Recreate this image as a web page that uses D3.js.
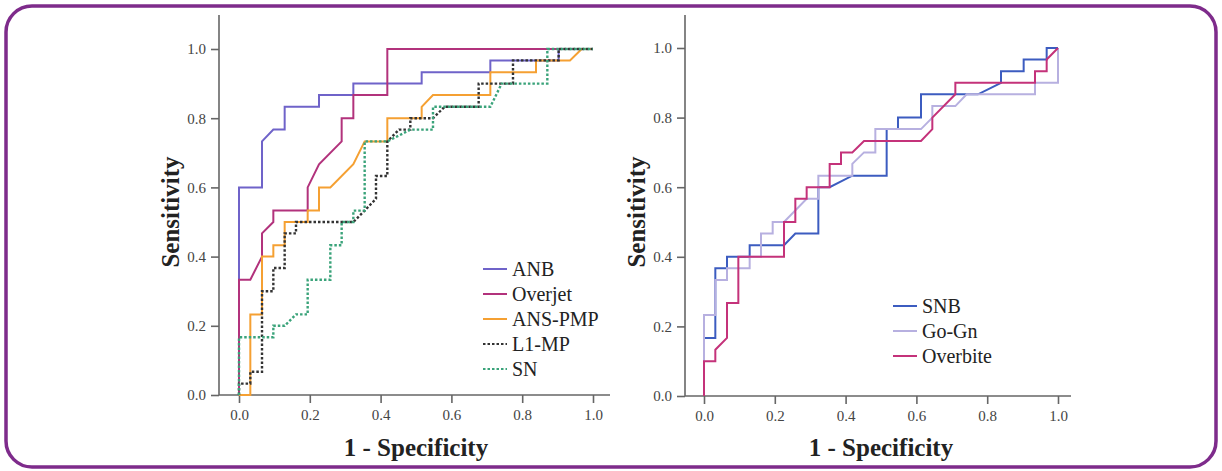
<!DOCTYPE html>
<html>
<head>
<meta charset="utf-8">
<script src="https://cdn.jsdelivr.net/npm/d3@7"></script>
<style>
  html, body { margin: 0; padding: 0; background: #fff; }
  svg { display: block; }
  svg text { font-family: "Liberation Serif", "DejaVu Serif", serif; }
</style>
</head>
<body>
<div id="chart"></div>
<script>
// ROC curves, [1 - specificity, sensitivity]
const anb = [[0,0],[0,0.6],[0.065,0.6],[0.065,0.733],[0.097,0.767],[0.129,0.767],[0.129,0.833],[0.226,0.833],[0.226,0.867],[0.323,0.867],[0.323,0.9],[0.516,0.9],[0.516,0.933],[0.71,0.933],[0.71,0.967],[0.903,0.967],[0.903,1],[1,1]];
const overjet = [[0,0],[0,0.333],[0.032,0.333],[0.065,0.4],[0.065,0.467],[0.097,0.5],[0.097,0.533],[0.194,0.533],[0.194,0.6],[0.226,0.667],[0.29,0.733],[0.29,0.8],[0.323,0.8],[0.323,0.867],[0.419,0.867],[0.419,1],[1,1]];
const ansPmp = [[0,0],[0.032,0],[0.032,0.233],[0.065,0.233],[0.065,0.4],[0.097,0.4],[0.097,0.433],[0.129,0.433],[0.129,0.5],[0.194,0.5],[0.194,0.533],[0.226,0.533],[0.226,0.6],[0.258,0.6],[0.323,0.667],[0.355,0.733],[0.419,0.733],[0.419,0.8],[0.516,0.8],[0.516,0.833],[0.548,0.867],[0.71,0.867],[0.71,0.933],[0.839,0.933],[0.839,0.967],[0.935,0.967],[0.968,1],[1,1]];
const l1Mp = [[0,0],[0,0.033],[0.032,0.033],[0.032,0.067],[0.065,0.067],[0.065,0.3],[0.097,0.3],[0.097,0.367],[0.129,0.367],[0.129,0.467],[0.161,0.467],[0.161,0.5],[0.323,0.5],[0.355,0.533],[0.387,0.567],[0.387,0.633],[0.419,0.633],[0.419,0.733],[0.452,0.767],[0.484,0.767],[0.484,0.8],[0.548,0.8],[0.581,0.833],[0.677,0.833],[0.677,0.9],[0.774,0.9],[0.774,0.967],[0.903,0.967],[0.903,1],[1,1]];
const sn = [[0,0],[0,0.167],[0.097,0.167],[0.097,0.2],[0.129,0.2],[0.161,0.233],[0.194,0.233],[0.194,0.333],[0.258,0.333],[0.258,0.433],[0.29,0.433],[0.29,0.5],[0.323,0.5],[0.323,0.533],[0.355,0.533],[0.355,0.733],[0.419,0.733],[0.452,0.75],[0.484,0.767],[0.548,0.767],[0.548,0.833],[0.71,0.833],[0.742,0.9],[0.871,0.9],[0.871,1],[1,1]];

const snb = [[0,0],[0,0.167],[0.032,0.167],[0.032,0.367],[0.065,0.367],[0.065,0.4],[0.129,0.4],[0.129,0.433],[0.226,0.433],[0.258,0.467],[0.323,0.467],[0.323,0.6],[0.355,0.6],[0.419,0.633],[0.516,0.633],[0.516,0.767],[0.548,0.767],[0.548,0.8],[0.613,0.8],[0.613,0.867],[0.774,0.867],[0.839,0.9],[0.839,0.933],[0.903,0.933],[0.903,0.967],[0.968,0.967],[0.968,1],[1,1]];
const goGn = [[0,0],[0,0.233],[0.032,0.233],[0.032,0.333],[0.065,0.333],[0.065,0.367],[0.129,0.367],[0.129,0.4],[0.161,0.4],[0.161,0.467],[0.194,0.467],[0.194,0.5],[0.226,0.5],[0.29,0.567],[0.323,0.567],[0.323,0.633],[0.419,0.633],[0.419,0.667],[0.452,0.7],[0.484,0.7],[0.484,0.767],[0.613,0.767],[0.645,0.8],[0.645,0.833],[0.71,0.833],[0.742,0.867],[0.935,0.867],[0.935,0.9],[1,0.9],[1,1]];
const overbite = [[0,0],[0,0.1],[0.032,0.1],[0.032,0.133],[0.065,0.167],[0.065,0.267],[0.097,0.267],[0.097,0.4],[0.226,0.4],[0.226,0.5],[0.258,0.5],[0.258,0.567],[0.29,0.567],[0.29,0.6],[0.355,0.6],[0.355,0.667],[0.387,0.667],[0.387,0.7],[0.419,0.7],[0.452,0.733],[0.613,0.733],[0.645,0.767],[0.645,0.8],[0.71,0.867],[0.71,0.9],[0.935,0.9],[0.935,0.933],[0.968,0.933],[0.968,0.967],[1,1]];

const leftNames = ["ANB", "Overjet", "ANS-PMP", "L1-MP", "SN"];
const leftSeries = [anb, overjet, ansPmp, l1Mp, sn];
const rightNames = ["SNB", "Go-Gn", "Overbite"];
const rightSeries = [snb, goGn, overbite];
const tickValues = [0, 0.2, 0.4, 0.6, 0.8, 1.0];
const xTitle = "1 - Specificity";
const yTitle = "Sensitivity";

const leftStyle = [
  { color: "#6f63c9", dash: null },
  { color: "#b2327c", dash: null },
  { color: "#f5a032", dash: null },
  { color: "#333", dash: "2.5,2" },
  { color: "#3aa37a", dash: "2.5,2" }
];
const rightStyle = [
  { color: "#3c5cc0", dash: null },
  { color: "#b7b0e0", dash: null },
  { color: "#c4327a", dash: null }
];

const W = 1222, H = 471;
const font = '"Liberation Serif", "DejaVu Serif", serif';

const svg = d3.select("#chart")
  .append("svg")
  .attr("width", W)
  .attr("height", H);

svg.append("rect")
  .attr("width", W).attr("height", H)
  .attr("fill", "#fff");

// purple frame
svg.append("rect")
  .attr("x", 6).attr("y", 6)
  .attr("width", 1210).attr("height", 461)
  .attr("rx", 26).attr("ry", 26)
  .attr("fill", "none")
  .attr("stroke", "#7e2b8b")
  .attr("stroke-width", 3.5);

function drawPanel(cfg) {
  const x = d3.scaleLinear().domain([0, 1]).range([cfg.x0, cfg.x1]);
  const y = d3.scaleLinear().domain([0, 1]).range([cfg.y0, cfg.y1]);
  const g = svg.append("g");

  const xAxis = g.append("g")
    .attr("transform", `translate(0, ${cfg.y0})`)
    .call(d3.axisBottom(x).tickValues(tickValues).tickFormat(d3.format(".1f")).tickSize(8).tickPadding(6));
  const yAxis = g.append("g")
    .attr("transform", `translate(${cfg.axisX}, 0)`)
    .call(d3.axisLeft(y).tickValues(tickValues).tickFormat(d3.format(".1f")).tickSize(8).tickPadding(5));

  [xAxis, yAxis].forEach(a => {
    a.attr("font-family", null).attr("font-size", null);
    a.select(".domain").remove();
    a.selectAll("line").attr("stroke", "#666").attr("stroke-width", 1.6);
    a.selectAll("text")
      .attr("fill", "#444")
      .style("font-family", font)
      .style("font-size", "15px");
  });

  g.append("line")
    .attr("x1", cfg.axisX).attr("x2", cfg.axisX)
    .attr("y1", cfg.y0).attr("y2", 15)
    .attr("stroke", "#666").attr("stroke-width", 1.6);
  g.append("line")
    .attr("x1", cfg.axisX).attr("x2", cfg.xEnd)
    .attr("y1", cfg.y0).attr("y2", cfg.y0)
    .attr("stroke", "#666").attr("stroke-width", 1.6);

  const line = d3.line().x(d => x(d[0])).y(d => y(d[1]));

  cfg.series.forEach((s, i) => {
    g.append("path")
      .datum(s)
      .attr("d", line)
      .attr("fill", "none")
      .attr("stroke", cfg.style[i].color)
      .attr("stroke-width", cfg.style[i].dash ? 2.4 : 2)
      .attr("stroke-dasharray", cfg.style[i].dash);
  });

  // legend
  const lg = g.append("g").attr("transform", `translate(${cfg.legX}, ${cfg.legY})`);
  cfg.names.forEach((n, i) => {
    const row = lg.append("g").attr("transform", `translate(0, ${i * 25})`);
    row.append("line")
      .attr("x1", 0).attr("x2", 24)
      .attr("y1", 0).attr("y2", 0)
      .attr("stroke", cfg.style[i].color)
      .attr("stroke-width", 2)
      .attr("stroke-dasharray", cfg.style[i].dash);
    row.append("text")
      .attr("x", 29).attr("y", 7)
      .text(n)
      .attr("fill", "#222")
      .style("font-family", font)
      .style("font-size", "20px");
  });

  g.append("text")
    .text(xTitle)
    .attr("x", (cfg.x0 + cfg.x1) / 2)
    .attr("y", 456)
    .attr("text-anchor", "middle")
    .attr("fill", "#222")
    .style("font-family", font)
    .style("font-weight", "bold")
    .style("font-size", "25px");

  g.append("text")
    .text(yTitle)
    .attr("transform", `translate(${cfg.yTitleX}, 212) rotate(-90)`)
    .attr("text-anchor", "middle")
    .attr("fill", "#222")
    .style("font-family", font)
    .style("font-weight", "bold")
    .style("font-size", "25px");
}

drawPanel({
  x0: 239, x1: 593, y0: 395, y1: 49, axisX: 219, xEnd: 610,
  series: leftSeries, names: leftNames, style: leftStyle,
  legX: 483, legY: 269, yTitleX: 179
});

drawPanel({
  x0: 704, x1: 1058, y0: 396, y1: 48, axisX: 685, xEnd: 1071,
  series: rightSeries, names: rightNames, style: rightStyle,
  legX: 893, legY: 306, yTitleX: 645
});
</script>
</body>
</html>
